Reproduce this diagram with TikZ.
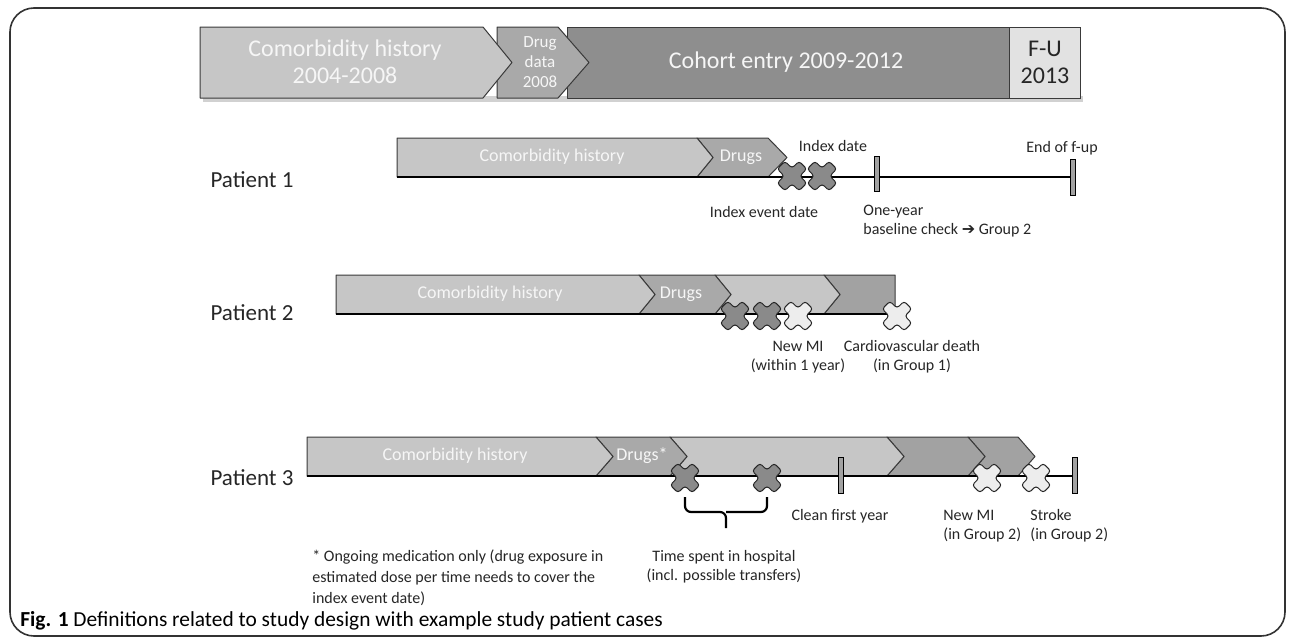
\documentclass[tikz,border=0pt]{standalone}
\usepackage{fontspec}
\setmainfont{Carlito}
\newfontfamily\dejavu{DejaVu Sans}
\definecolor{cA}{HTML}{C6C6C6}
\definecolor{cB}{HTML}{A9A9A9}
\definecolor{cC}{HTML}{8E8E8E}
\definecolor{cD}{HTML}{E2E2E2}
\definecolor{cE}{HTML}{A2A2A2}
\definecolor{xdark}{HTML}{8A8A8A}
\definecolor{xlight}{HTML}{EDEDED}
\definecolor{edgec}{HTML}{3A3A3A}
\definecolor{txtw}{HTML}{F6F6F6}
\newcommand\segm[7]{% fill, left, bodyend, tipdepth, notchdepth, top, bottom
  \filldraw[fill=#1,draw=edgec,line width=0.5pt,line join=round] (#2,#6) -- (#3,#6) -- ({#3+#4},{(#6+#7)/2}) -- (#3,#7) -- (#2,#7) -- ({#2+#5},{(#6+#7)/2}) -- cycle;}
\newcommand\xmk[3]{%
  \begin{scope}[shift={(#1,#2)},rotate=45]
  \filldraw[fill=#3,draw=black!85,line width=0.5pt,rounded corners=1.5] (5.5,15.5) -- (5.5,5.5) -- (15.5,5.5) -- (15.5,-5.5) -- (5.5,-5.5) -- (5.5,-15.5) -- (-5.5,-15.5) -- (-5.5,-5.5) -- (-15.5,-5.5) -- (-15.5,5.5) -- (-5.5,5.5) -- (-5.5,15.5) -- cycle;
  \end{scope}}
\newcommand\mrk[3]{\filldraw[fill=cE,draw=black,line width=0.5pt] ({#1-2.6},#2) rectangle ({#1+2.6},#3);}
\begin{document}
\begin{tikzpicture}[x=0.5pt,y=-0.5pt,
  lbl/.style={font=\fontsize{8}{9.5}\selectfont,align=center,inner sep=0pt,text=black!85},
  pat/.style={font=\fontsize{11.5}{13}\selectfont,inner sep=0pt,text=black!85},
  inbar/.style={font=\fontsize{9}{11}\selectfont,inner sep=0pt,text=txtw},
  topt/.style={font=\fontsize{12}{13.5}\selectfont,align=center,inner sep=0pt,text=txtw},
  tline/.style={line width=0.8pt,draw=black}]
\useasboundingbox (0,0) rectangle (1290,637);
% frame
\draw[line width=0.8pt,draw=black!80,rounded corners=12] (10,8) rectangle (1285,636);

% ---------- top bar ----------
\fill[black!18] (203,96) rectangle (1083,101.5);
\filldraw[fill=cD,draw=edgec,line width=0.5pt] (1009,27) rectangle (1080,98);
\segm{cC}{567}{1009}{0}{0}{27}{98}
\segm{cB}{497}{558}{31}{0}{27}{98}
\segm{cA}{200}{483}{29}{0}{27}{98}
\node[topt] (t1) at (345,62) {Comorbidity history\\2004-2008};
\node[topt,font=\fontsize{8.5}{10}\selectfont] (t2) at (540,62) {Drug\\data\\2008};
\node[topt] (t3) at (786,62) {Cohort entry 2009-2012};
\node[topt,text=black!85] (t4) at (1045,62) {F-U\\2013};

% ---------- patient 1 ----------
\node[pat] (p1) at (252,180) {Patient 1};
\segm{cB}{697}{768}{19}{16}{138}{177}
\segm{cA}{397}{697}{16}{0}{138}{177}
\node[inbar] (p1c) at (552,157) {Comorbidity history};
\node[inbar] (p1d) at (741,157) {Drugs};
\coordinate (p1s) at (397,177);
\coordinate (p1e) at (1073,177);
\draw[tline] (p1s) -- (p1e);
\mrk{877}{156}{191}
\mrk{1073}{159}{195}
\xmk{792}{176}{xdark}
\xmk{822}{176}{xdark}
\node[lbl] (l1) at (833,146) {Index date};
\node[lbl] (l2) at (1062,148) {End of f-up};
\node[lbl] (l3) at (764,212) {Index event date};
\node[lbl,align=left,anchor=west] (l4) at (863,221) {One-year\\baseline check {\dejavu\char"2794} Group 2};

% ---------- patient 2 ----------
\node[pat] (p2) at (252,313) {Patient 2};
\segm{cE}{824}{895}{0}{16}{275}{314}
\segm{cA}{715}{824}{16}{16}{275}{314}
\segm{cB}{639}{715}{16}{16}{275}{314}
\segm{cA}{336}{639}{16}{0}{275}{314}
\node[inbar] (p2c) at (490,294) {Comorbidity history};
\node[inbar] (p2d) at (681,294) {Drugs};
\coordinate (p2s) at (336,314);
\coordinate (p2e) at (895,314);
\draw[tline] (p2s) -- (p2e);
\xmk{735}{316}{xdark}
\xmk{767}{316}{xdark}
\xmk{798}{316}{xlight}
\xmk{897}{316}{xlight}
\node[lbl] (l5) at (798,357) {New MI\\(within 1 year)};
\node[lbl] (l6) at (912,357) {Cardiovascular death\\(in Group 1)};

% ---------- patient 3 ----------
\node[pat] (p3) at (252,478) {Patient 3};
\segm{cE}{968}{1018}{17}{17}{437}{476}
\segm{cE}{887}{968}{17}{17}{437}{476}
\segm{cA}{670}{887}{17}{17}{437}{476}
\segm{cB}{596}{670}{17}{17}{437}{476}
\segm{cA}{307}{596}{17}{0}{437}{476}
\node[inbar] (p3c) at (455,456) {Comorbidity history};
\node[inbar] (p3d) at (642,456) {Drugs*};
\coordinate (p3s) at (307,476);
\coordinate (p3e) at (1075,476);
\draw[tline] (p3s) -- (p3e);
\mrk{841}{457}{493}
\mrk{1075}{457}{493}
\xmk{685}{478}{xdark}
\xmk{767}{478}{xdark}
\xmk{987}{478}{xlight}
\xmk{1036}{478}{xlight}
\coordinate (b1) at (685,497);
\coordinate (b2) at (767,497);
\coordinate (bm) at (726,512);
\coordinate (bt) at (726,528);
\draw[line width=1.1pt,rounded corners=3] (b1) |- (bm) -- (bt);
\draw[line width=1.1pt,rounded corners=3] (b2) |- (bm);
\node[lbl] (l7) at (840,516) {Clean first year};
\node[lbl,align=left,anchor=west] (l8) at (943,526) {New MI\\(in Group 2)};
\node[lbl,align=left,anchor=west] (l9) at (1030,526) {Stroke\\(in Group 2)};
\node[lbl] (l10) at (724,567) {Time spent in hospital\\(incl. possible transfers)};
\node[lbl,align=left,anchor=north west,font=\fontsize{8}{10.5}\selectfont] (fn) at (312,549) {* Ongoing medication only (drug exposure in\\estimated dose per time needs to cover the\\index event date)};

% caption
\node[anchor=west,inner sep=0pt,font=\fontsize{10.7}{12}\selectfont] (cap) at (20,621) {\textbf{Fig. 1} Definitions related to study design with example study patient cases};
\end{tikzpicture}
\end{document}
